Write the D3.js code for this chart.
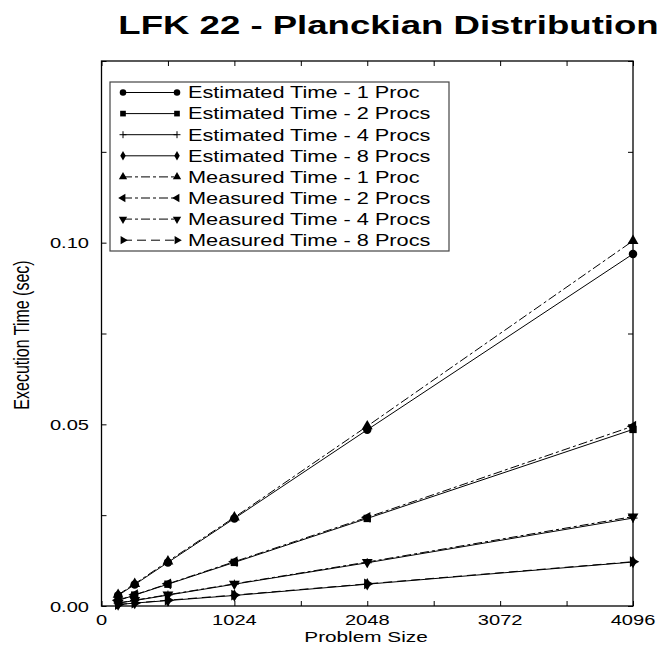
<!DOCTYPE html>
<html><head><meta charset="utf-8">
<script src="https://cdn.jsdelivr.net/npm/d3@7"></script>
<style>body{margin:0;background:#fff}svg{display:block}text{font-family:"Liberation Sans",Arial,sans-serif;fill:#000}</style>
</head><body><svg id="c" width="666" height="650"></svg>
<script>
const sizes = [128, 256, 512, 1024, 2048, 4096];
const est1 = [0.0029, 0.0059, 0.0120, 0.0241, 0.0485, 0.0969];
const est2 = [0.0015, 0.0030, 0.0060, 0.0120, 0.0241, 0.0486];
const est4 = [0.0008, 0.0015, 0.0030, 0.0060, 0.0119, 0.0242];
const est8 = [0.0004, 0.0008, 0.0015, 0.0029, 0.0060, 0.0121];
const meas1 = [0.0031, 0.0061, 0.0123, 0.0244, 0.0495, 0.1005];
const meas2 = [0.0016, 0.0031, 0.0061, 0.0122, 0.0244, 0.0495];
const meas4 = [0.0008, 0.0016, 0.0031, 0.0061, 0.0121, 0.0246];
const meas8 = [0.0004, 0.0008, 0.0016, 0.0030, 0.0061, 0.0122];
const seriesNames = ["Estimated Time - 1 Proc","Estimated Time - 2 Procs","Estimated Time - 4 Procs","Estimated Time - 8 Procs",
  "Measured Time - 1 Proc","Measured Time - 2 Procs","Measured Time - 4 Procs","Measured Time - 8 Procs"];
const seriesValues = [est1, est2, est4, est8, meas1, meas2, meas4, meas8];
const markers = ["circle","square","plus","diamond","triUp","triLeft","triDown","triRight"];
const dashes = [null,null,null,null,"9,3,3,3","9,3,3,3","9,3,3,3","9,5"];
const xTickLabels = [0, 1024, 2048, 3072, 4096];
const yTickLabels = [0.00, 0.05, 0.10];
const titleText = "LFK 22 - Planckian Distribution";
const xTitle = "Problem Size";
const yTitle = "Execution Time (sec)";

const SX = 1.34;
const svg = d3.select("#c");
const L = 101.5, R = 633, T = 61, B = 606;
const x = d3.scaleLinear().domain([0, 4096]).range([L, R]);
const y = d3.scaleLinear().domain([0, 0.15]).range([B, T]);

function stext(g, str, px, py, size, anchor, weight, sx) {
  return g.append("text").attr("transform", `translate(${px},${py}) scale(${sx || SX},1)`)
    .attr("text-anchor", anchor).style("font-size", size + "px").style("font-weight", weight || "normal").text(str);
}

// title
stext(svg, titleText, 388.5, 34, 26.5, "middle", "bold", 1.38);

// frame
svg.append("rect").attr("x", L).attr("y", T).attr("width", R - L).attr("height", B - T)
  .attr("fill", "none").attr("stroke", "#000").attr("stroke-width", 1.3);

// axes with inward ticks
const xt = d3.range(0, 4097, 512);
const yt = d3.range(0, 0.1501, 0.025);
const axB = svg.append("g").attr("transform", `translate(0,${B})`).call(d3.axisTop(x).tickValues(xt).tickSize(5).tickFormat(""));
const axT = svg.append("g").attr("transform", `translate(0,${T})`).call(d3.axisBottom(x).tickValues(xt).tickSize(5).tickFormat(""));
const axL = svg.append("g").attr("transform", `translate(${L},0)`).call(d3.axisRight(y).tickValues(yt).tickSize(5).tickFormat(""));
const axR = svg.append("g").attr("transform", `translate(${R},0)`).call(d3.axisLeft(y).tickValues(yt).tickSize(5).tickFormat(""));
[axB, axT, axL, axR].forEach(a => { a.select(".domain").remove(); a.selectAll("line").attr("stroke", "#000"); });

// tick labels
xTickLabels.forEach(v => stext(svg, String(v), x(v), 625, 15, "middle"));
yTickLabels.forEach(v => stext(svg, v.toFixed(2), 89, y(v) + 5.5, 15, "end"));

// axis titles
stext(svg, xTitle, 366, 642, 15.5, "middle");
svg.append("text").attr("transform", `translate(29,335) rotate(-90) scale(1,${SX})`)
  .attr("text-anchor", "middle").style("font-size", "16px").text(yTitle);

function markerPath(type, s) {
  const sym = (t, a) => d3.symbol().type(t).size(a)();
  switch (type) {
    case "circle": return sym(d3.symbolCircle, s * 3.3);
    case "square": return sym(d3.symbolSquare, s * 3.2);
    case "diamond": return sym(d3.symbolDiamond, s * 2.6);
    case "plus": { const h = Math.sqrt(s) * 1.1; return `M${-h},0H${h}M0,${-h}V${h}`; }
    default: return sym(d3.symbolTriangle, s * 3.0);
  }
}
const rot = { triUp: 0, triLeft: -90, triDown: 180, triRight: 90 };
function drawMarker(g, type, px, py, s) {
  const p = g.append("path").attr("d", markerPath(type, s))
    .attr("transform", `translate(${px},${py}) rotate(${rot[type] || 0})`);
  if (type === "plus") p.attr("fill", "none").attr("stroke", "#000").attr("stroke-width", 1);
  else p.attr("fill", "#000");
}

// series
const line = d3.line().x(d => x(d[0])).y(d => y(d[1]));
const plot = svg.append("g");
seriesValues.forEach((vals, i) => {
  const pts = sizes.map((s, j) => [s, vals[j]]);
  plot.append("path").attr("d", line(pts)).attr("fill", "none").attr("stroke", "#000")
    .attr("stroke-width", 1).attr("stroke-dasharray", dashes[i]);
  pts.forEach(p => drawMarker(plot, markers[i], x(p[0]), y(p[1]), 17));
});

// legend
const lg = svg.append("g");
lg.append("rect").attr("x", 110).attr("y", 82).attr("width", 339).attr("height", 169)
  .attr("fill", "#fff").attr("stroke", "#444").attr("stroke-width", 1.2);
seriesNames.forEach((name, i) => {
  const cy = 92.5 + i * 21.1;
  lg.append("line").attr("x1", 123).attr("x2", 177).attr("y1", cy).attr("y2", cy)
    .attr("stroke", "#000").attr("stroke-width", 1).attr("stroke-dasharray", dashes[i]);
  drawMarker(lg, markers[i], 123, cy, 10);
  drawMarker(lg, markers[i], 177, cy, 10);
  stext(lg, name, 188, cy + 5.8, 16.2, "start");
});
</script></body></html>
